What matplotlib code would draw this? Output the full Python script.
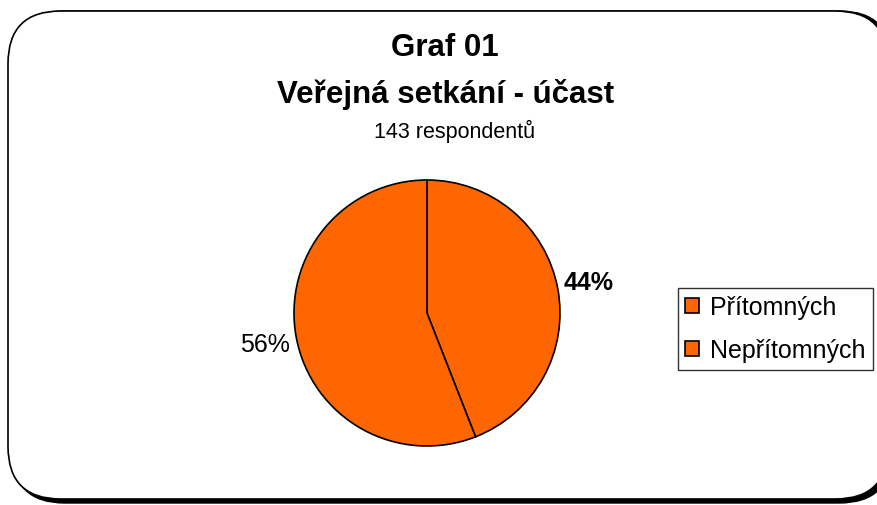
import matplotlib.pyplot as plt
from matplotlib.patches import FancyBboxPatch, Patch

plt.rcParams['font.family'] = ['Liberation Sans', 'DejaVu Sans']

# data
labels = ['Přítomných', 'Nepřítomných']
counts = [63, 80]
pct_labels = ['44%', '56%']
colors = ['#FF6600', '#FF6600']

W, H = 878, 506
fig = plt.figure(figsize=(W / 100, H / 100), dpi=100)
fig.patch.set_facecolor('white')

# pixel -> figure fraction
def fx(px):
    return px / W

def fy(py):
    return 1 - py / H

# rounded frame with shadow
shadow = FancyBboxPatch((fx(12), fy(504)), fx(880), 492 / H,
                        boxstyle='round,pad=0,rounding_size=0.06',
                        transform=fig.transFigure, facecolor='black',
                        edgecolor='black', mutation_aspect=W / H, zorder=-3)
fig.patches.append(shadow)
frame = FancyBboxPatch((fx(8), fy(500)), fx(880), 488 / H,
                       boxstyle='round,pad=0,rounding_size=0.06',
                       transform=fig.transFigure, facecolor='white',
                       edgecolor='black', linewidth=1.2, mutation_aspect=W / H,
                       zorder=-2)
fig.patches.append(frame)

# titles
fig.text(fx(445), fy(48), 'Graf 01', ha='center', va='center',
         fontsize=22.5, fontweight='bold')
fig.text(fx(446), fy(95), 'Veřejná setkání - účast', ha='center', va='center',
         fontsize=22.5, fontweight='bold')
fig.text(fx(455), fy(131), '143 respondentů', ha='center', va='center',
         fontsize=15.5)

# pie
r = 133
cx, cy = 427, 314
ax = fig.add_axes([fx(cx - r), fy(cy + r), 2 * r / W, 2 * r / H])
ax.set_zorder(2)
wedges, texts = ax.pie(counts, colors=colors, startangle=90, counterclock=False,
                       labels=pct_labels, labeldistance=1.24,
                       wedgeprops=dict(edgecolor='black', linewidth=1.2))
for i, t in enumerate(texts):
    t.set_ha('center')
    t.set_va('center')
    t.set_fontsize(18)
    if i == 0:
        t.set_fontweight('bold')
ax.set_xlim(-1, 1)
ax.set_ylim(-1, 1)
ax.set_aspect('auto')

# legend
handles = [Patch(facecolor=c, edgecolor='black', linewidth=1.2) for c in colors]
leg = fig.legend(handles, labels, loc='upper left',
                 bbox_to_anchor=(fx(678), fy(289)), fontsize=18,
                 frameon=True, fancybox=False, edgecolor='black',
                 handlelength=0.55, handleheight=0.55, handletextpad=0.45,
                 labelspacing=0.75, borderpad=0.3, borderaxespad=0)
leg.get_frame().set_linewidth(1.0)

fig.savefig('out.png', dpi=100)
